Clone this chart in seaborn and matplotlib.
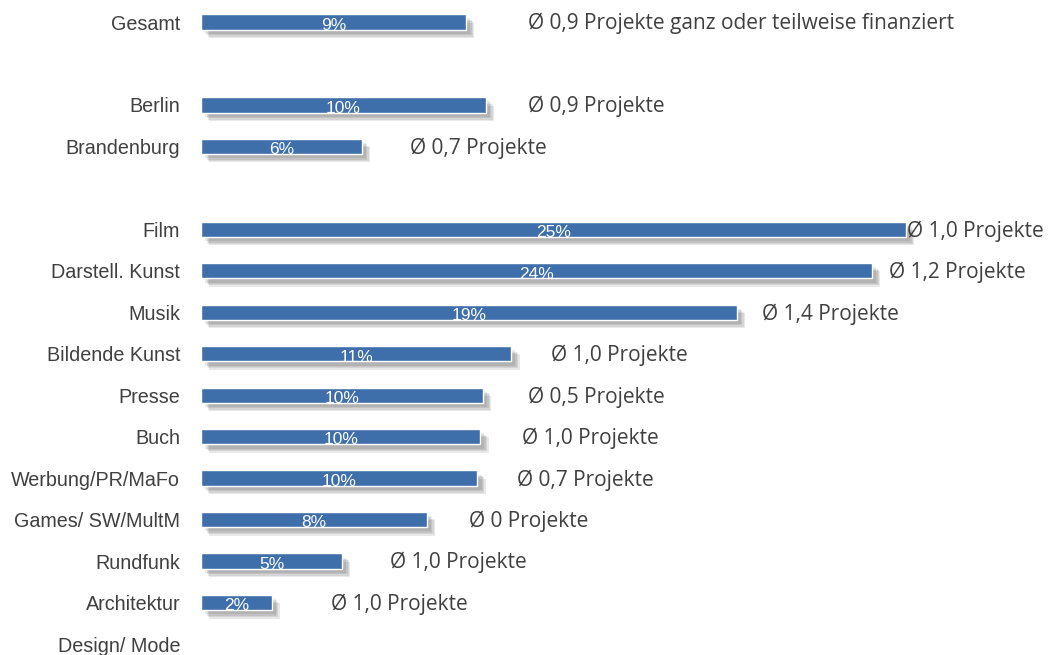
import pandas as pd
import matplotlib.pyplot as plt
import matplotlib.patheffects as pe
import seaborn as sns

# Data (blank names are spacer rows between groups)
categories = ["Gesamt", " ", "Berlin", "Brandenburg", "  ",
              "Film", "Darstell. Kunst", "Musik", "Bildende Kunst", "Presse",
              "Buch", "Werbung/PR/MaFo", "Games/ SW/MultM", "Rundfunk",
              "Architektur", "Design/ Mode"]
shares = [9.4, 0, 10.1, 5.7, 0,
          25.0, 23.8, 19.0, 11.0, 10.0,
          9.9, 9.8, 8.0, 5.0, 2.5, 0]
notes = ["Ø 0,9 Projekte ganz oder teilweise finanziert", "", "Ø 0,9 Projekte",
         "Ø 0,7 Projekte", "",
         "Ø 1,0 Projekte", "Ø 1,2 Projekte", "Ø 1,4 Projekte", "Ø 1,0 Projekte",
         "Ø 0,5 Projekte", "Ø 1,0 Projekte", "Ø 0,7 Projekte", "Ø 0 Projekte",
         "Ø 1,0 Projekte", "Ø 1,0 Projekte", ""]
# x where each note starts (in % units)
note_x = [11.6, 0, 11.6, 7.4, 0,
          25.05, 24.4, 19.9, 12.4, 11.6, 11.4, 11.2, 9.5, 6.7, 4.6, 0]

df = pd.DataFrame({"cat": categories, "share": shares})

sns.set_style("white")
plt.rcParams['font.family'] = ['Liberation Sans', 'DejaVu Sans']

fig = plt.figure(figsize=(10.52, 6.55), dpi=100)
ax = fig.add_axes([201 / 1052, (655 - 652.3) / 655, 846 / 1052, (652.3 - 1.27) / 655])

sns.barplot(data=df, x="share", y="cat", order=categories, orient="h",
            color="#3F6FAA", saturation=1, width=0.37,
            edgecolor="white", linewidth=1, ax=ax)

# soft drop shadow
shadow = [pe.SimplePatchShadow(offset=(3 + k, -3 - k), shadow_rgbFace="#444444", alpha=0.12)
          for k in range(4)]
for bar in ax.patches:
    bar.set_path_effects(shadow + [pe.Normal()])

for i, (v, note, nx) in enumerate(zip(shares, notes, note_x)):
    if v > 0:
        ax.text(v / 2, i + 0.08, f"{round(v)}%", color="white", fontsize=12.5,
                ha="center", va="center")
    if note:
        ax.text(nx, i + 0.04, note, color="#404040", fontsize=15, ha="left", va="center",
                family=["Open Sans", "DejaVu Sans"])

ax.set_xlim(0, 30)
ax.set_ylim(15.2, -0.5)
ax.set_xlabel("")
ax.set_ylabel("")
ax.set_xticks([])
ax.tick_params(axis="y", length=0, pad=15, labelsize=14.2, labelcolor="#404040")
sns.despine(ax=ax, left=True, bottom=True)

plt.savefig("out.png", dpi=100)
